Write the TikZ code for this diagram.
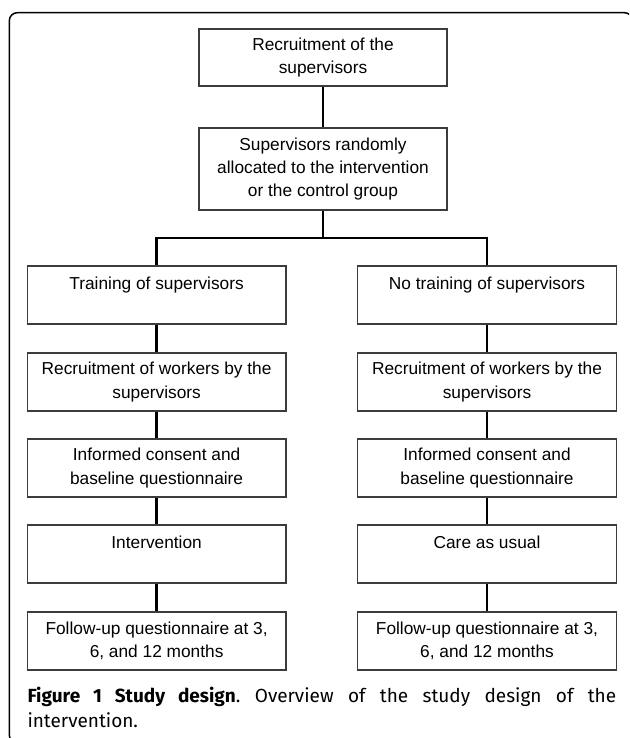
\documentclass[tikz,border=0pt]{standalone}
\usepackage{fontspec}
\setmainfont{Liberation Sans}
\newfontfamily\capfont{Fira Sans}
\definecolor{boxline}{HTML}{3C3C3C}

\begin{document}
\begin{tikzpicture}[x=1pt, y=-1pt,
    stage/.style={draw=boxline, line width=1.2pt, minimum width=258.6pt, minimum height=58pt,
        inner sep=0pt, align=center, font=\fontsize{17.3}{23.3}\selectfont},
    link/.style={line width=2.8pt}]
\useasboundingbox (0,0) rectangle (629,738);
% Outer frame, cut off at the page edge
\begin{scope}
    \clip (0,0) rectangle (629,738);
    \draw[line width=1.5pt, rounded corners=8pt] (9.3,12.7) rectangle (632.5,743);
\end{scope}
% Define the top of the chart
\node[stage, minimum width=248pt, minimum height=57pt] (recruit) at (323,57.5) {Recruitment of the\\supervisors};
\node[stage, minimum width=248pt, minimum height=82pt] (alloc) at (323,169) {Supervisors randomly\\allocated to the intervention\\or the control group};
% Define the two arms
\node[stage] (l1) at (156.6,295) {Training of supervisors\\\mbox{}};
\node[stage] (r1) at (487,295) {No training of supervisors\\\mbox{}};
\foreach \side/\x in {l/156.6, r/487} {
    \node[stage] (\side2) at (\x,382) {Recruitment of workers by the\\supervisors};
    \node[stage] (\side3) at (\x,468) {Informed consent and\\baseline questionnaire};
    \node[stage] (\side5) at (\x,641) {Follow-up questionnaire at 3,\\6, and 12 months};
}
\node[stage] (l4) at (156.6,554) {Intervention\\\mbox{}};
\node[stage] (r4) at (487,554) {Care as usual\\\mbox{}};
% Add the connectors
\coordinate (split) at (323,238);
\draw[link] (recruit) -- (alloc);
\draw[link] (alloc) -- (split);
\draw[link] (l1) |- (split) -| (r1);
\foreach \i/\j in {1/2,2/3,3/4,4/5}
    \foreach \side in {l,r}
        \draw[link] (\side\i) -- (\side\j);
% Caption under the chart
\node[anchor=base west, inner sep=0pt] (caption) at (27.3,702) {\parbox[t]{588.7pt}{\fontsize{19}{25}\selectfont
    \capfont\frenchspacing\textbf{Figure 1 Study design}. Overview of the study design of the\linebreak intervention.}};
\end{tikzpicture}
\end{document}
